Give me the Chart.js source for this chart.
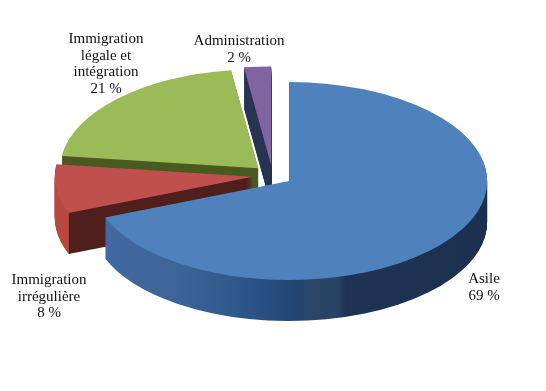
<!DOCTYPE html>
<html>
<head>
<meta charset="utf-8">
<style>
  body { margin: 0; background: #fff; }
</style>
</head>
<body>
<canvas id="pie" width="546" height="391"></canvas>
<script src="https://cdn.jsdelivr.net/npm/chart.js@4"></script>
<script>
const categories = ["Asile", "Immigration irrégulière", "Immigration légale et intégration", "Administration"];
const shares = [69, 8, 20.8, 2.2];
const labelLines = [["Asile"], ["Immigration", "irrégulière"], ["Immigration", "légale et", "intégration"], ["Administration"]];
const topColors = ["#4f81bd", "#c0504d", "#9bbb59", "#8064a2"];

// fake 3D: squash the round pie, then stack copies of each slice downward
const centerX = 272.6, centerY = 175.4, tilt = 0.5, depth = 41, explode = 20;
const labelSpots = [[484, 283], [49, 284], [106, 43], [239, 45]];
const lineGap = 16.5;

function sideFill(ctx, i, dx) {
  // gradients run on x only, dx undoes the explode shift of the slice
  if (i === 0) {
    const g = ctx.createLinearGradient(105 - dx, 0, 487 - dx, 0);
    g.addColorStop(0, "#4169a3");
    g.addColorStop(0.2, "#3b6496");
    g.addColorStop(0.36, "#2d568a");
    g.addColorStop(0.5, "#224672");
    g.addColorStop(0.54, "#2a4568");
    g.addColorStop(0.61, "#2b4464");
    g.addColorStop(0.63, "#1f3455");
    g.addColorStop(1, "#1c2f4f");
    return g;
  }
  if (i === 1) {
    const g = ctx.createLinearGradient(56 - dx, 0, 70 - dx, 0);
    g.addColorStop(0, "#b8473f");
    g.addColorStop(0.92, "#b8473f");
    g.addColorStop(0.93, "#4f201b");
    g.addColorStop(1, "#4f201b");
    return g;
  }
  return i === 2 ? "#4a5a20" : "#2a3555";
}

function paintSlice(ctx, arc, fill, dropY) {
  const mid = (arc.startAngle + arc.endAngle) / 2;
  const saved = arc.options;
  arc.options = Object.create(saved, { backgroundColor: { value: fill } });
  ctx.save();
  ctx.translate(centerX, centerY + dropY);
  ctx.scale(1, tilt);
  ctx.translate(Math.cos(mid) * explode, Math.sin(mid) * explode);
  ctx.translate(-arc.x, -arc.y);
  arc.draw(ctx);
  ctx.restore();
  arc.options = saved;
}

const tiltedPie = {
  id: "tiltedPie",
  beforeDatasetDraw(chart, args) {
    const ctx = chart.ctx;
    const arcs = args.meta.data;
    // back slices first so the front ones cover them
    for (let i = arcs.length - 1; i >= 0; i--) {
      const mid = (arcs[i].startAngle + arcs[i].endAngle) / 2;
      const fill = sideFill(ctx, i, Math.cos(mid) * explode);
      for (let d = depth; d > 0; d--) {
        paintSlice(ctx, arcs[i], fill, d);
      }
      paintSlice(ctx, arcs[i], topColors[i], 0);
    }
    return false;
  },
  afterDraw(chart) {
    const ctx = chart.ctx;
    ctx.save();
    ctx.font = "15px 'Liberation Serif'";
    ctx.fillStyle = "#111";
    ctx.textAlign = "center";
    shares.forEach((v, i) => {
      const lines = labelLines[i].concat(Math.round(v) + " %");
      lines.forEach((t, n) => {
        ctx.fillText(t, labelSpots[i][0], labelSpots[i][1] + n * lineGap);
      });
    });
    ctx.restore();
  }
};

new Chart(document.getElementById("pie"), {
  type: "pie",
  data: {
    labels: categories,
    datasets: [{ data: shares, backgroundColor: topColors, borderWidth: 0 }]
  },
  options: {
    responsive: false,
    animation: false,
    radius: 198,
    plugins: { legend: { display: false }, tooltip: { enabled: false } }
  },
  plugins: [tiltedPie]
});
</script>
</body>
</html>
